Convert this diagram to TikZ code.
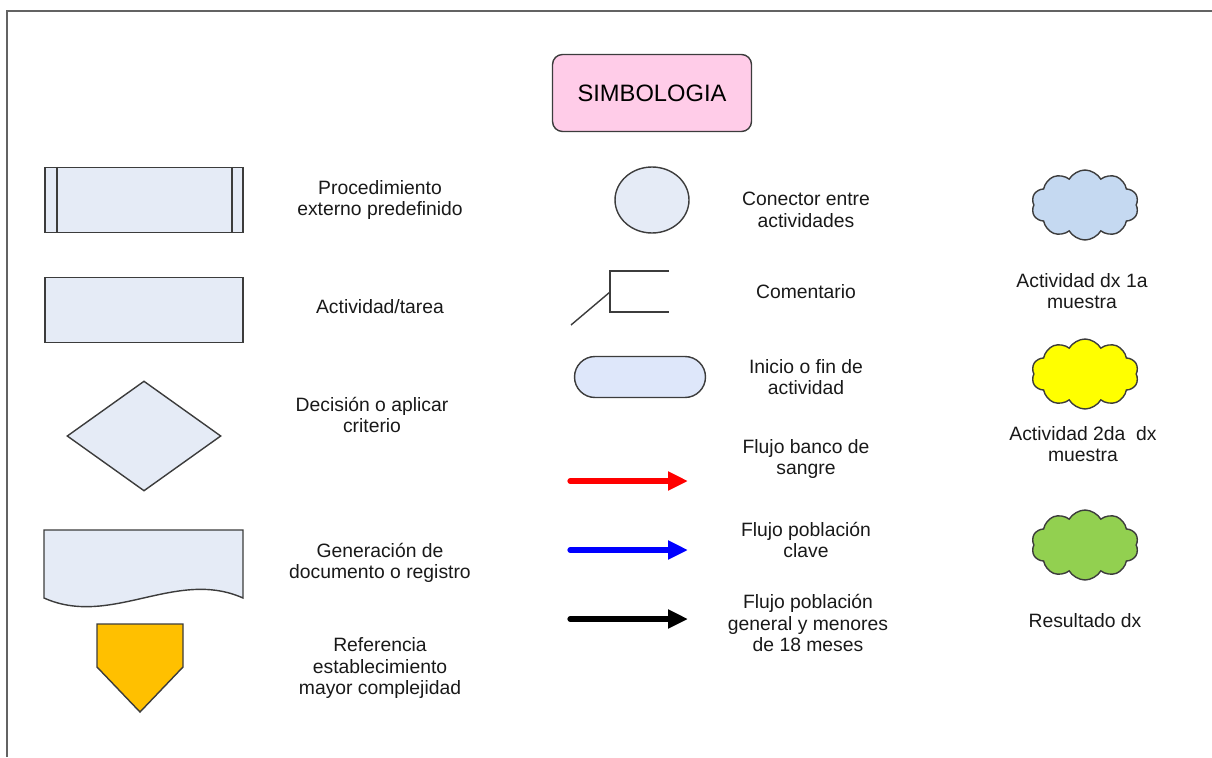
\documentclass[tikz,border=0pt]{standalone}
\usepackage{fontspec}
\setmainfont{Liberation Sans}
\usepackage{tikz}
\usetikzlibrary{shapes.geometric,shapes.symbols,arrows.meta}

\definecolor{edgegray}{RGB}{60,60,60}
\definecolor{boxfill}{RGB}{229,235,246}
\definecolor{termfill}{RGB}{222,231,250}
\definecolor{titlepink}{RGB}{255,204,232}
\definecolor{cloudblue}{RGB}{197,217,241}
\definecolor{cloudyellow}{RGB}{255,255,0}
\definecolor{cloudgreen}{RGB}{146,208,80}
\definecolor{refgold}{RGB}{255,192,0}

\begin{document}
\begin{tikzpicture}[x=0.02cm, y=-0.02cm,
    shapebox/.style={rectangle, draw=edgegray, fill=boxfill, line width=0.8pt, minimum width=3.96cm, minimum height=1.3cm},
    txt/.style={align=center, font=\fontsize{11}{12.3}\selectfont, text=black!90},
    puff/.style={cloud, cloud puffs=10, cloud puff arc=120, aspect=1.5, draw=edgegray, line width=0.8pt, minimum width=2.14cm, minimum height=1.4cm},
    flow/.style={line width=3pt, line cap=round, -{Triangle[length=0.4cm, width=0.36cm]}}
]
\useasboundingbox (0,0) rectangle (1212,757);

% Frame
\draw[edgegray!80, line width=1.1pt] (7,757) -- (7,11) -- (1212,11);

% Title
\node[rectangle, rounded corners=0.2cm, draw=edgegray, fill=titlepink, line width=0.8pt, minimum width=3.98cm, minimum height=1.54cm, font=\fontsize{13.5}{15}\selectfont] at (652,93) (title) {SIMBOLOGIA};

% Left column shapes
\node[shapebox] at (144,200) (predef) {};
\draw[edgegray, line width=1pt] ([xshift=0.26cm]predef.north west) -- ([xshift=0.26cm]predef.south west);
\draw[edgegray, line width=1pt] ([xshift=-0.24cm]predef.north east) -- ([xshift=-0.24cm]predef.south east);
\node[shapebox] at (144,310) (task) {};
\node[diamond, draw=edgegray, fill=boxfill, line width=0.8pt, minimum width=3.08cm, minimum height=2.2cm, inner sep=0pt] at (144,436) (decision) {};
\draw[edgegray, fill=boxfill, line width=0.8pt] (44,530) -- (243,530) -- (243,598)
    .. controls (176,568) and (111,628) .. (44,598) -- cycle;
\draw[edgegray, fill=refgold, line width=0.8pt] (97,624) -- (183,624) -- (183,667) -- (140,712) -- (97,667) -- cycle;

% Left column labels
\node[txt] at (380,200) (lpredef) {Procedimiento\\externo predefinido};
\node[txt] at (380,307) (ltask) {Actividad/tarea};
\node[txt] at (372,415) (ldecision) {Decisión o aplicar\\criterio};
\node[txt] at (380,563) (ldoc) {Generación de\\documento o registro};
\node[txt] at (380,668) (lref) {Referencia\\establecimiento\\mayor complejidad};

% Middle column shapes
\node[ellipse, draw=edgegray, fill=boxfill, line width=0.8pt, minimum width=1.48cm, minimum height=1.32cm] at (652,200) (conn) {};
\draw[edgegray, line width=0.8pt] (669,271) -- (610,271) -- (610,312) -- (669,312);
\draw[edgegray, line width=0.8pt] (610,292) -- (571,325);
\node[rectangle, rounded corners=0.41cm, draw=edgegray, fill=termfill, line width=0.8pt, minimum width=2.62cm, minimum height=0.82cm] at (640,377) (term) {};

% Flow arrows
\coordinate (reda) at (570,481);
\coordinate (redb) at (688,481);
\coordinate (bluea) at (570,550);
\coordinate (blueb) at (688,550);
\coordinate (blacka) at (570,619);
\coordinate (blackb) at (688,619);
\draw[flow, red] (reda) -- (redb);
\draw[flow, blue] (bluea) -- (blueb);
\draw[flow, black] (blacka) -- (blackb);

% Middle column labels
\node[txt] at (806,210) (lconn) {Conector entre\\actividades};
\node[txt] at (806,292) (lcomment) {Comentario};
\node[txt] at (806,377) (lterm) {Inicio o fin de\\actividad};
\node[txt] at (806,459) (lred) {Flujo banco de\\sangre};
\node[txt] at (806,540) (lblue) {Flujo población\\clave};
\node[txt] at (808,623) (lblack) {Flujo población\\general y menores\\de 18 meses};

% Right column clouds
\node[puff, fill=cloudblue] at (1085,205) (cfirst) {};
\node[puff, fill=cloudyellow] at (1085,374) (csecond) {};
\node[puff, fill=cloudgreen] at (1085,545) (cresult) {};

% Right column labels
\node[txt] at (1082,291) (lfirst) {Actividad dx 1a\\muestra};
\node[txt] at (1083,444) (lsecond) {Actividad 2da\ \ dx\\muestra};
\node[txt] at (1085,621) (lresult) {Resultado dx};

\end{tikzpicture}
\end{document}
